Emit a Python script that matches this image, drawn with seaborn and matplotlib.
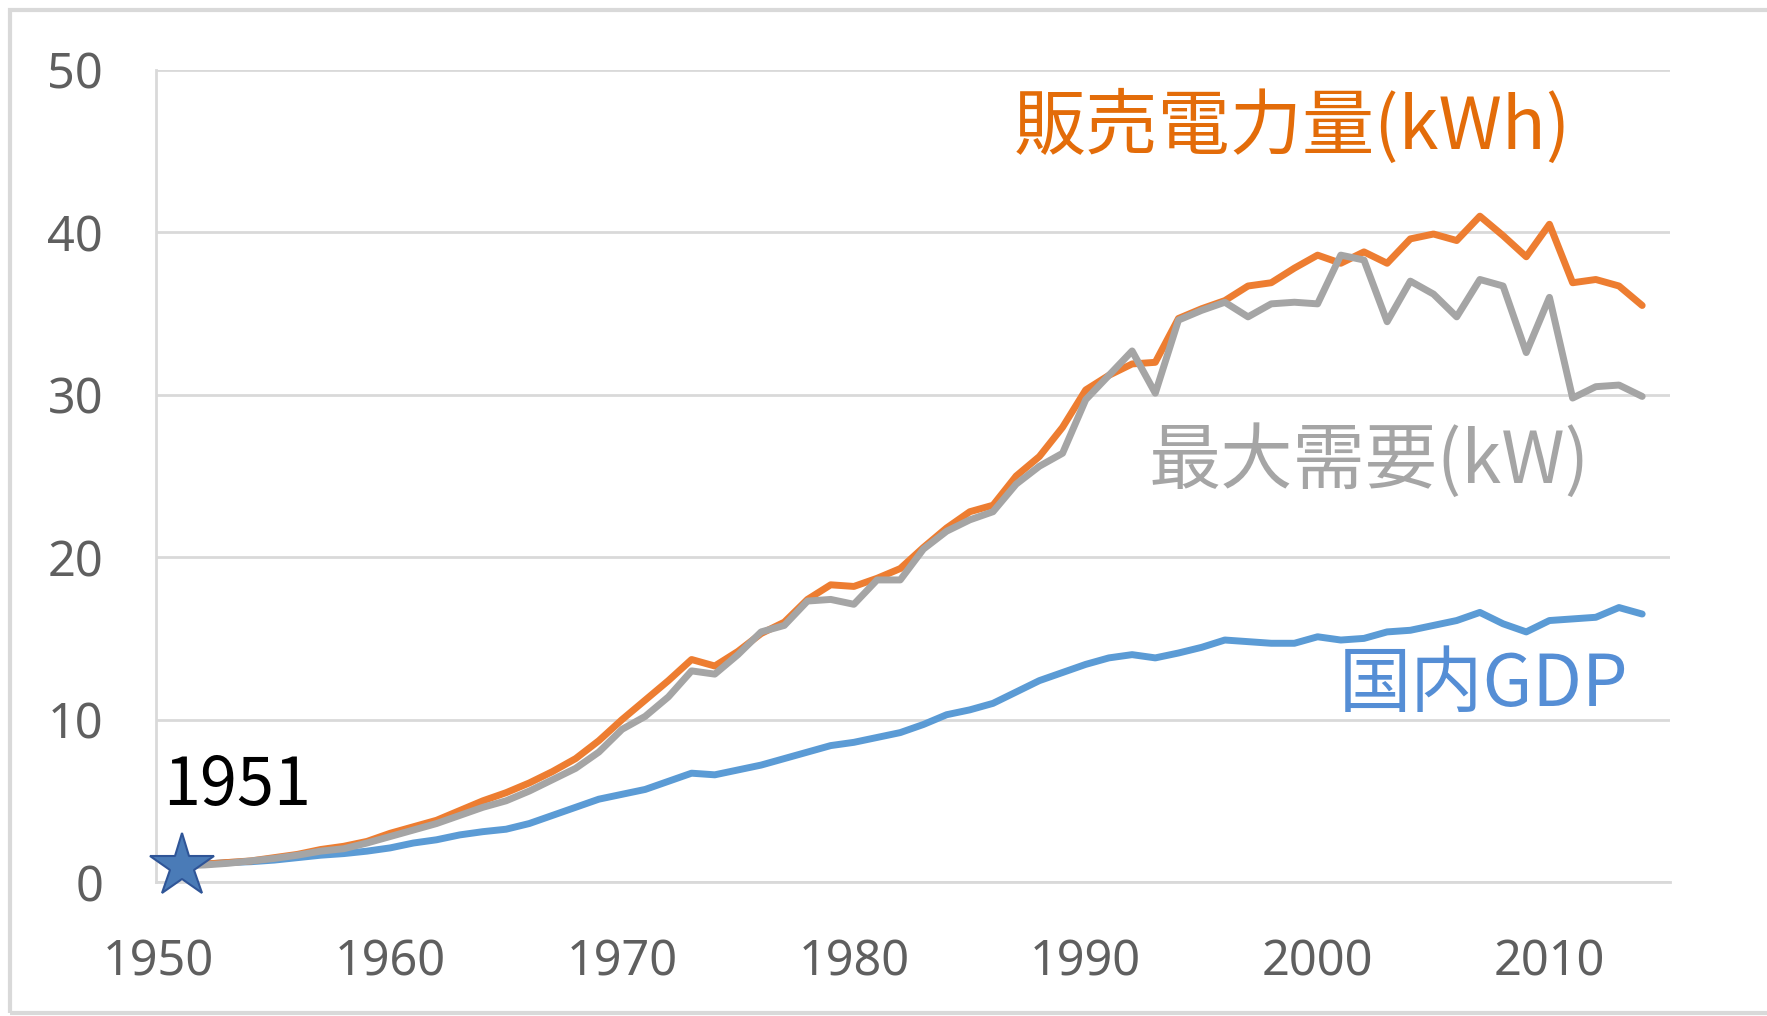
import matplotlib
import matplotlib.pyplot as plt
import numpy as np
import pandas as pd
import seaborn as sns
from matplotlib.patches import Rectangle

matplotlib.use("Agg")

# index values, 1951 = 1
years = list(range(1951, 2015))

sales_kwh = [
    1.0, 1.1, 1.2, 1.3, 1.5, 1.7, 2.0, 2.2, 2.5, 3.0,
    3.4, 3.8, 4.4, 5.0, 5.5, 6.1, 6.8, 7.6, 8.7, 10.0,
    11.2, 12.4, 13.7, 13.3, 14.2, 15.3, 16.0, 17.4, 18.3, 18.2,
    18.7, 19.3, 20.6, 21.8, 22.8, 23.2, 25.0, 26.2, 28.0, 30.3,
    31.2, 31.9, 32.0, 34.7, 35.3, 35.8, 36.7, 36.9, 37.8, 38.6,
    38.1, 38.8, 38.1, 39.6, 39.9, 39.5, 41.0, 39.8, 38.5, 40.5,
    36.9, 37.1, 36.7, 35.5,
]

peak_kw = [
    1.0, 1.05, 1.15, 1.3, 1.45, 1.65, 1.9, 2.05, 2.4, 2.8,
    3.2, 3.6, 4.1, 4.6, 5.0, 5.6, 6.3, 7.0, 8.0, 9.4,
    10.2, 11.4, 13.0, 12.8, 14.0, 15.4, 15.8, 17.3, 17.4, 17.1,
    18.6, 18.6, 20.5, 21.6, 22.3, 22.8, 24.5, 25.6, 26.4, 29.7,
    31.2, 32.7, 30.1, 34.6, 35.2, 35.7, 34.8, 35.6, 35.7, 35.6,
    38.6, 38.3, 34.5, 37.0, 36.2, 34.8, 37.1, 36.7, 32.6, 36.0,
    29.8, 30.5, 30.6, 29.9,
]

gdp = [
    1.0, 1.1, 1.2, 1.25, 1.35, 1.5, 1.65, 1.75, 1.9, 2.1,
    2.4, 2.6, 2.9, 3.1, 3.25, 3.6, 4.1, 4.6, 5.1, 5.4,
    5.7, 6.2, 6.7, 6.6, 6.9, 7.2, 7.6, 8.0, 8.4, 8.6,
    8.9, 9.2, 9.7, 10.3, 10.6, 11.0, 11.7, 12.4, 12.9, 13.4,
    13.8, 14.0, 13.8, 14.1, 14.45, 14.9, 14.8, 14.7, 14.7, 15.1,
    14.9, 15.0, 15.4, 15.5, 15.8, 16.1, 16.6, 15.9, 15.4, 16.1,
    16.2, 16.3, 16.9, 16.5,
]

y_ticks = [0, 10, 20, 30, 40, 50]
x_ticks = [1950, 1960, 1970, 1980, 1990, 2000, 2010]

df = pd.DataFrame({"year": years, "sales": sales_kwh, "peak": peak_kw, "gdp": gdp})

sns.set_style("white")
plt.rcParams["font.family"] = ["Noto Sans CJK JP", "DejaVu Sans"]

fig = plt.figure(figsize=(17.67, 10.16), dpi=100)
ax = fig.add_axes([156 / 1767, 1 - 882 / 1016, 1514 / 1767, 812 / 1016])

sns.lineplot(data=df, x="year", y="gdp", ax=ax, color="#5B9BD5", linewidth=5)
sns.lineplot(data=df, x="year", y="sales", ax=ax, color="#ED7D31", linewidth=5)
sns.lineplot(data=df, x="year", y="peak", ax=ax, color="#A5A5A5", linewidth=5)

# start marker
ax.plot(df["year"][:1], df["peak"][:1], marker="*", markersize=48,
        markerfacecolor="#4A7BB7", markeredgecolor="#2F5597", markeredgewidth=1.5,
        linestyle="none", zorder=5, clip_on=False)

ax.set_xlim(1949.9, 2015.2)
ax.set_ylim(0, 50)
ax.set_xticks(x_ticks)
ax.set_yticks(y_ticks)
ax.set_xlabel("")
ax.set_ylabel("")
ax.grid(axis="y", color="#D9D9D9", linewidth=2)
ax.grid(axis="x", visible=False)
for side in ["top", "right"]:
    ax.spines[side].set_visible(False)
ax.spines["left"].set_color("#D9D9D9")
ax.spines["left"].set_linewidth(2)
ax.spines["bottom"].set_color("#D9D9D9")
ax.spines["bottom"].set_linewidth(2)
ax.tick_params(axis="both", length=0, labelsize=35, labelcolor="#5F5F5F")
ax.tick_params(axis="y", pad=38)
ax.tick_params(axis="x", pad=40)
for lab in ax.get_xticklabels() + ax.get_yticklabels():
    lab.set_family(["Noto Sans", "DejaVu Sans"])

ax.text(1986.9, 46.5, "販売電力量(kWh)", color="#E36C09", fontsize=52,
        ha="left", va="center")
ax.text(1992.7, 25.9, "最大需要(kW)", color="#A5A5A5", fontsize=52,
        ha="left", va="center")
ax.text(2000.9, 12.1, "国内GDP", color="#558ED5", fontsize=52,
        ha="left", va="center")
ax.text(1950.2, 5.9, "1951", color="black", fontsize=48,
        ha="left", va="center")

fig.patches.append(Rectangle((10 / 1767, 3 / 1016), 1.1, 1003 / 1016,
                             transform=fig.transFigure, fill=False,
                             edgecolor="#D9D9D9", linewidth=3))

fig.savefig("out.png", dpi=100, facecolor="white")
plt.close(fig)
